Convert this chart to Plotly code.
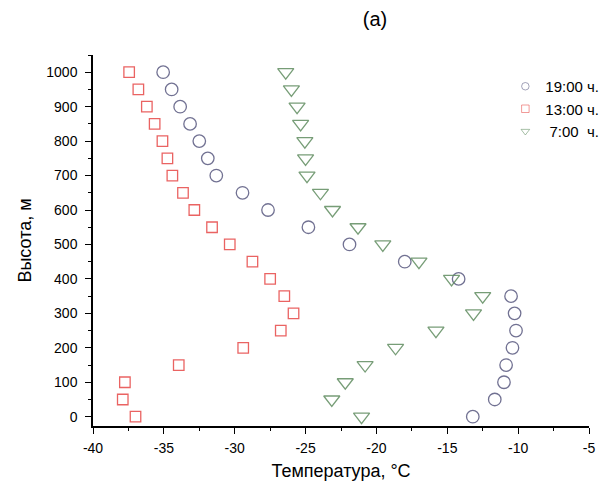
import plotly.graph_objects as go

heights = [0, 50, 100, 150, 200, 250, 300, 350, 400, 450, 500,
           550, 600, 650, 700, 750, 800, 850, 900, 950, 1000]

t_19 = [-13.2, -11.65, -11.0, -10.85, -10.4, -10.15, -10.25, -10.5, -14.2, -18.0, -21.9,
        -24.8, -27.65, -29.45, -31.3, -31.9, -32.5, -33.15, -33.85, -34.45, -35.05]
t_13 = [-37.0, -37.9, -37.75, -33.95, -29.4, -26.75, -25.85, -26.5, -27.5, -28.75, -30.35,
        -31.6, -32.85, -33.65, -34.4, -34.75, -35.1, -35.65, -36.2, -36.8, -37.45]
t_07 = [-21.05, -23.15, -22.2, -20.8, -18.65, -15.8, -13.15, -12.5, -14.7, -17.0, -19.55,
        -21.3, -23.1, -23.95, -24.9, -25.0, -25.05, -25.35, -25.6, -26.0, -26.4]

series_names = ["19:00 ч.", "13:00 ч.", "\u00a07:00\u00a0\u00a0ч."]
series_values = [t_19, t_13, t_07]
colors = ["#58587f", "#e64846", "#5f8c5f"]
symbols = ["circle-open", "square-open", "triangle-down-open"]
sizes = [12.5, 10.5, 14]

x_ticks = [-40, -35, -30, -25, -20, -15, -10, -5]
y_ticks = [0, 100, 200, 300, 400, 500, 600, 700, 800, 900, 1000]

FONT = "Liberation Sans, Arial, sans-serif"

fig = go.Figure()
for name, vals, col, sym, sz in zip(series_names, series_values, colors, symbols, sizes):
    fig.add_trace(go.Scatter(
        x=vals, y=heights, mode="markers", name=name, showlegend=False,
        marker=dict(symbol=sym, size=sz, color=col, opacity=0.85,
                    line=dict(width=1.3, color=col)),
    ))
for name, col, sym in zip(series_names, colors, symbols):
    fig.add_trace(go.Scatter(
        x=[None], y=[None], mode="markers", name=name, showlegend=True,
        marker=dict(symbol=sym, size=7.5, color=col, opacity=0.55,
                    line=dict(width=1.0, color=col)),
    ))

axis_common = dict(
    showline=True, linecolor="black", linewidth=1.5,
    ticks="outside", ticklen=6, tickwidth=1.2, tickcolor="black",
    showgrid=False, zeroline=False, mirror=False, automargin=False,
    tickfont=dict(family=FONT, size=14, color="black"),
)

fig.update_layout(
    width=616, height=486,
    margin=dict(l=93, r=19, t=55, b=60),
    paper_bgcolor="white", plot_bgcolor="white",
    font=dict(family=FONT, color="black"),
    title=dict(text="(a)", x=375 / 616, xanchor="center", y=1 - 19 / 486, yanchor="middle",
               font=dict(family=FONT, size=20, color="black")),
    xaxis=dict(range=[-40, -5], tickvals=x_ticks,
               ticktext=[str(v) for v in x_ticks],
               minor=dict(ticks="outside", ticklen=3, dtick=2.5, tick0=-40,
                          tickcolor="black", tickwidth=1.2),
               ticklabelstandoff=2,
               title=dict(text="Температура, °C", standoff=10,
                          font=dict(family=FONT, size=18, color="black")),
               **axis_common),
    yaxis=dict(range=[-27, 1050], tickvals=y_ticks,
               ticktext=[str(v) for v in y_ticks],
               minor=dict(ticks="outside", ticklen=3, dtick=50, tick0=0,
                          tickcolor="black", tickwidth=1.2),
               ticklabelstandoff=5,
               title=dict(text="Высота, м", standoff=10,
                          font=dict(family=FONT, size=18, color="black")),
               **axis_common),
    legend=dict(x=(512 - 93) / 504, xanchor="left", y=1 - (70 - 55) / 371, yanchor="top",
                bgcolor="rgba(0,0,0,0)", borderwidth=0, tracegroupgap=0,
                font=dict(family=FONT, size=15, color="black")),
)

fig.write_html("out.html")
